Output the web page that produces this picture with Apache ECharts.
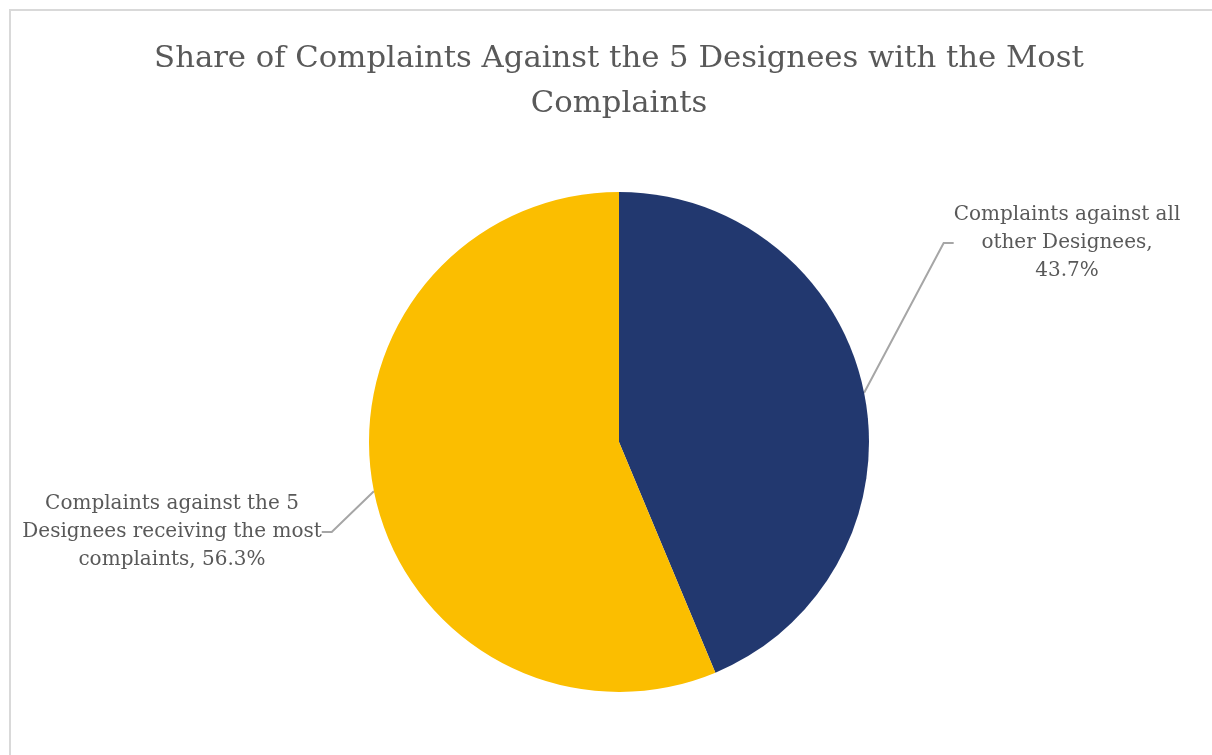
<!DOCTYPE html>
<html>
<head>
<meta charset="utf-8">
<script src="https://cdn.jsdelivr.net/npm/echarts@6/dist/echarts.min.js"></script>
<style>
  html, body { margin: 0; padding: 0; background: #fff; }
  #main { width: 1212px; height: 755px; }
</style>
</head>
<body>
<div id="main"></div>
<script>
// slices, in drawing order (clockwise from 12 o'clock)
var categories = [
  'Complaints against all\nother Designees',
  'Complaints against the 5\nDesignees receiving the most\ncomplaints'
];
var shares = [43.7, 56.3];
// text between name and percentage in each label
var labelJoins = [',\n', ', '];
var colors = ['#22386f', '#fbbe00'];
// where each label block sits (centre of the text)
var labelSpots = [[1067, 243], [172, 532]];

var myChart = echarts.init(document.getElementById('main'));

var pieData = categories.map(function (name, i) {
  return { name: name, value: shares[i], itemStyle: { color: colors[i] } };
});

myChart.setOption({
  animation: false,
  title: {
    text: 'Share of Complaints Against the 5 Designees with the Most\nComplaints',
    left: 614,
    top: 32,
    textAlign: 'center',
    textStyle: {
      fontFamily: 'DejaVu Serif',
      fontWeight: 'normal',
      fontSize: 30.7,
      lineHeight: 45,
      color: '#595959'
    }
  },
  graphic: [{
    type: 'rect',
    shape: { x: 10, y: 10, width: 1400, height: 900 },
    style: { fill: 'none', stroke: '#d9d9d9', lineWidth: 2 },
    silent: true
  }],
  series: [{
    type: 'pie',
    center: [619, 442],
    radius: 250,
    startAngle: 90,
    clockwise: true,
    data: pieData,
    label: {
      show: true,
      position: 'outside',
      formatter: function (p) {
        return p.name + labelJoins[p.dataIndex] + p.value.toFixed(1) + '%';
      },
      fontFamily: 'DejaVu Serif',
      fontSize: 20,
      lineHeight: 28,
      color: '#595959',
      align: 'center'
    },
    labelLine: {
      show: true,
      length: 20,
      length2: 10,
      lineStyle: { color: '#a6a6a6', width: 2 }
    },
    labelLayout: function (params) {
      var spot = labelSpots[params.dataIndex];
      return {
        x: spot[0],
        y: spot[1],
        align: 'center',
        verticalAlign: 'middle'
      };
    }
  }]
});
</script>
</body>
</html>
